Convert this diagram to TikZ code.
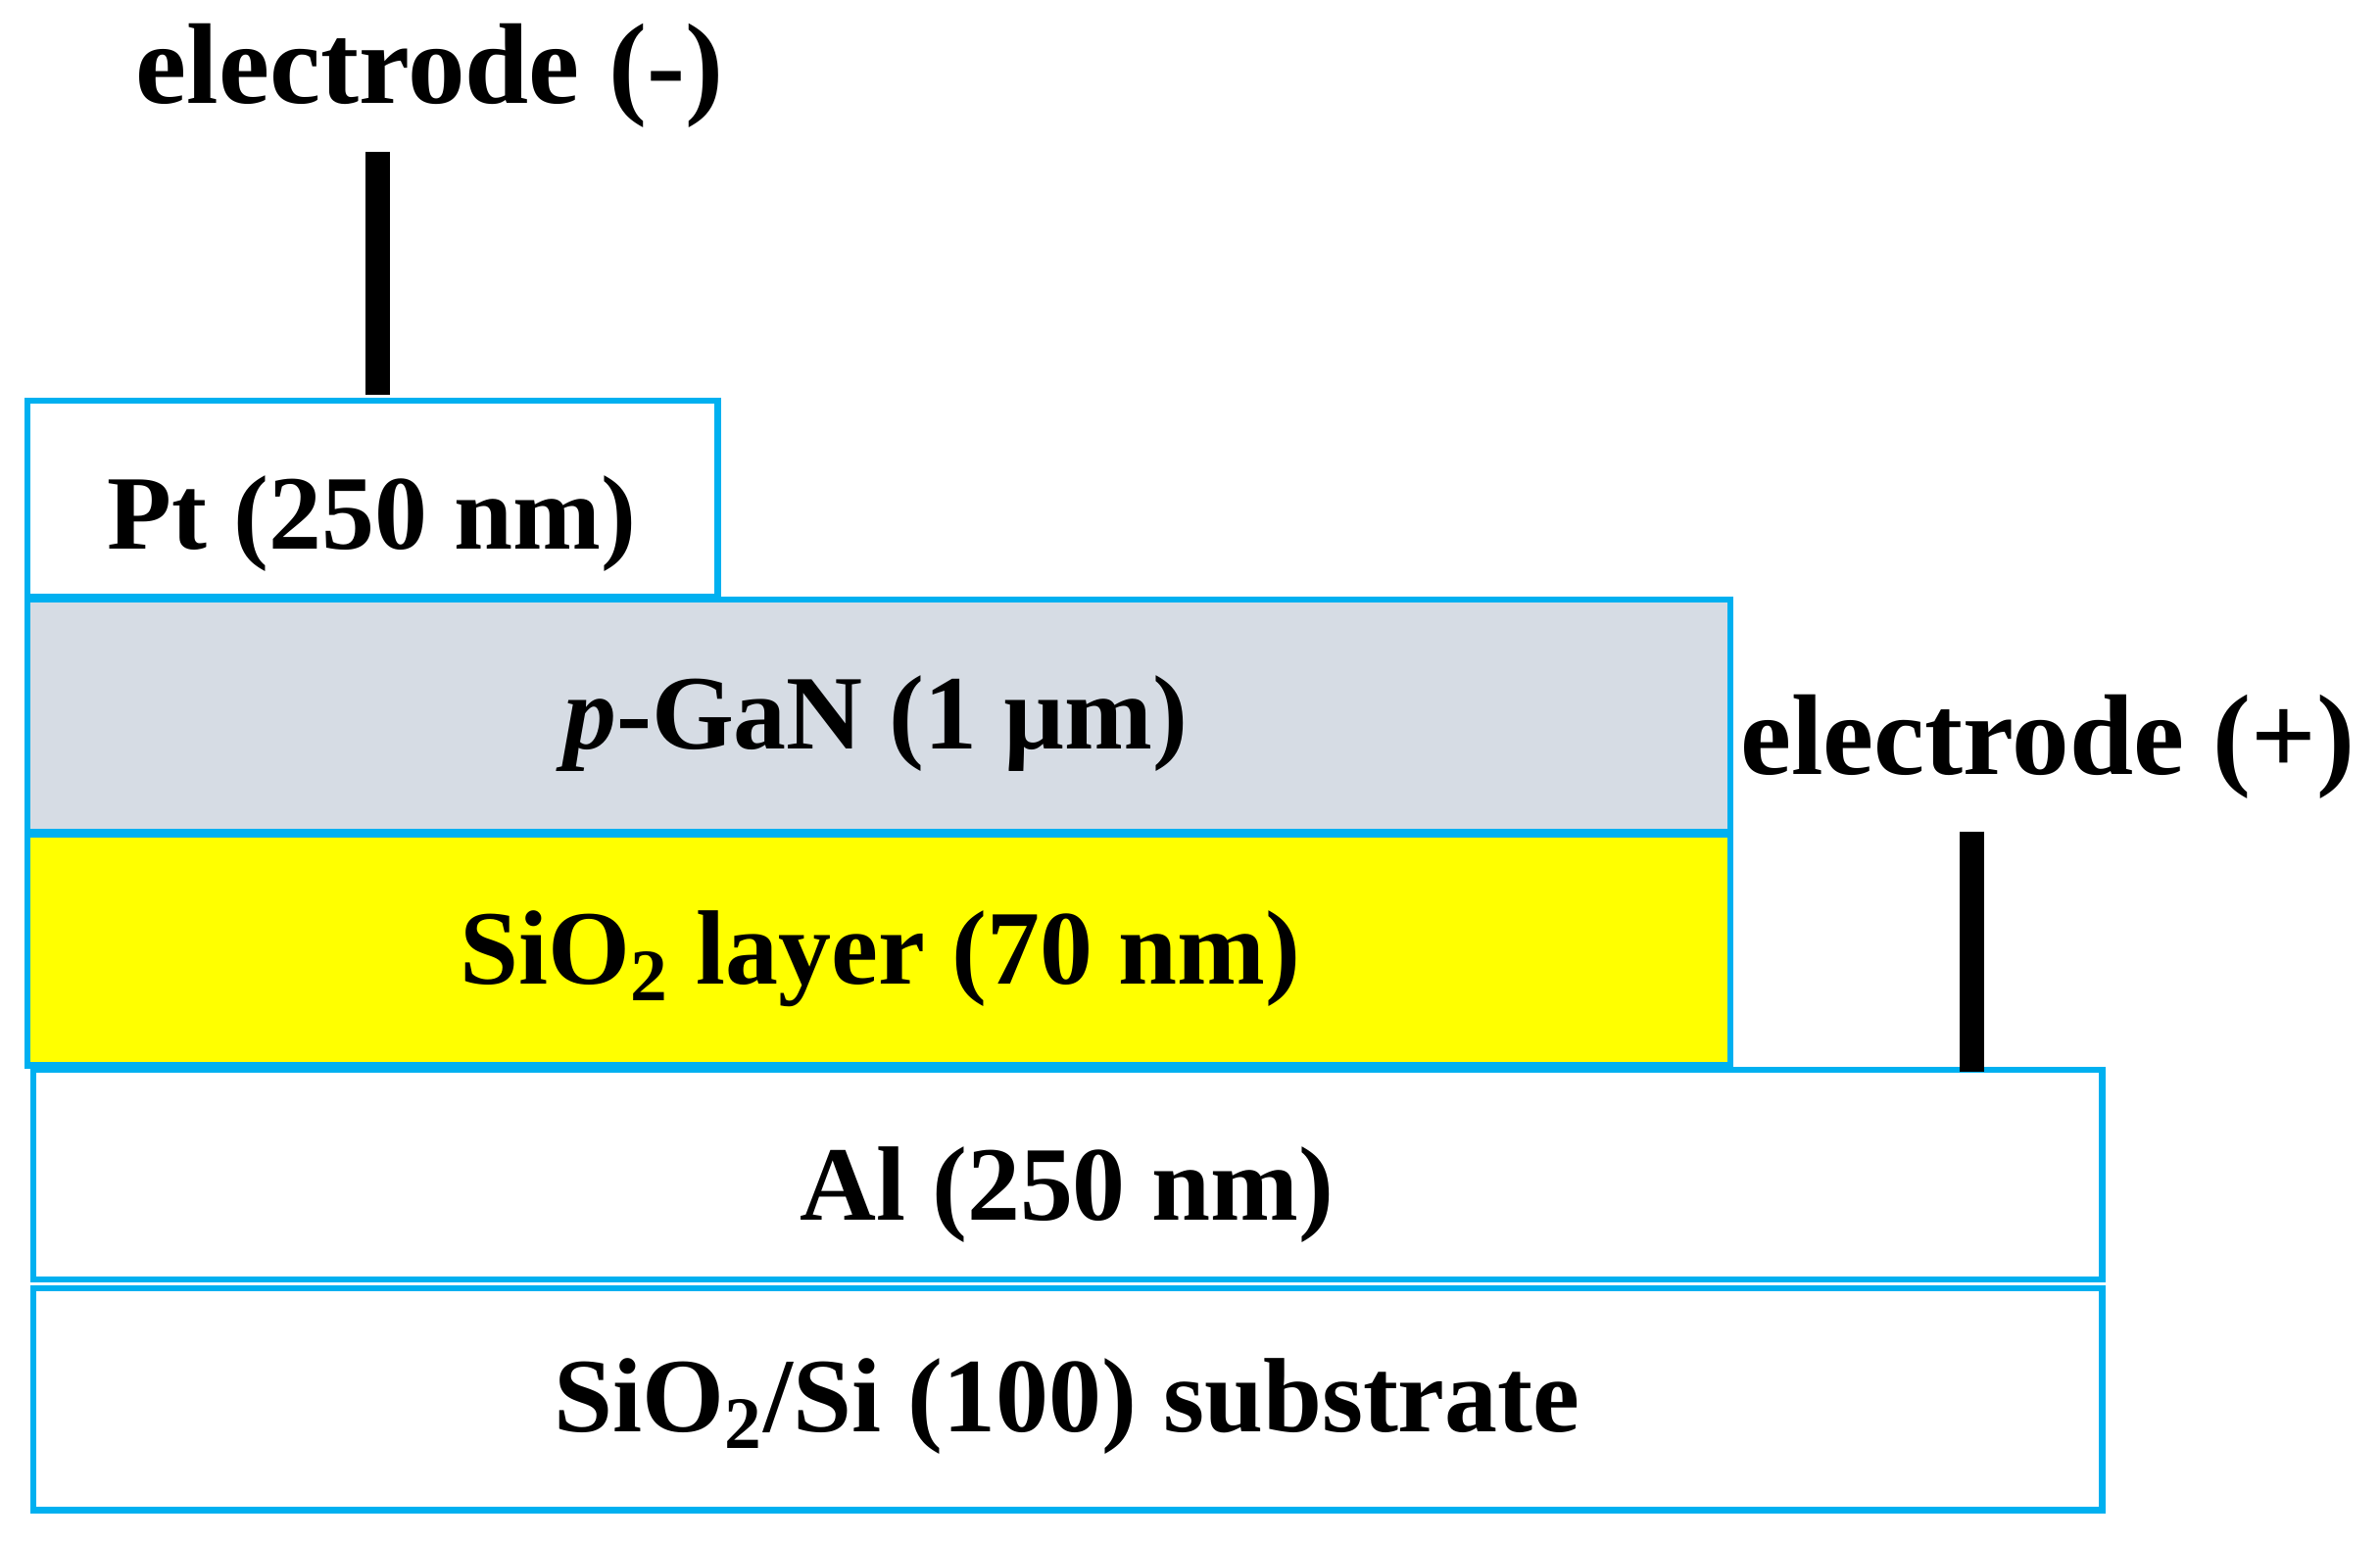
\documentclass[tikz,border=0pt]{standalone}
\usepackage{fontspec}
\setmainfont{Liberation Serif}
\definecolor{lb}{HTML}{00B0F0}
\definecolor{gan}{HTML}{D6DCE4}
\definecolor{yel}{HTML}{FFFF00}
\begin{document}
\begin{tikzpicture}[x=0.01cm,y=-0.01cm,
  layer/.style={draw=lb,line width=1.2pt},
  lbl/.style={font=\fontsize{19.8}{23}\selectfont\bfseries},
  elbl/.style={font=\fontsize{21.5}{24}\selectfont\bfseries},
  wire/.style={line width=4.5pt}]
\useasboundingbox (0,0) rectangle (1568,1016);
\draw[layer] (18,264) rectangle (473,393);
\draw[layer,fill=gan] (18,395) rectangle (1140,548);
\draw[layer,fill=yel] (18,550) rectangle (1140,702);
\draw[layer] (22,705) rectangle (1385,843);
\draw[layer] (22,849) rectangle (1385,995);
\node[lbl] (pt) at (245,345) {Pt (250 nm)};
\node[lbl] (gan) at (577,477) {\textit{p}-GaN (1 µm)};
\node[lbl] (sio) at (580,632) {SiO\textsubscript{2} layer (70 nm)};
\node[lbl] (al) at (703,787) {Al (250 nm)};
\node[lbl] (sub) at (703,927) {SiO\textsubscript{2}/Si (100) substrate};
\node[elbl] (em) at (283,50) {electrode (-)};
\node[elbl] (ep) at (1349,492) {electrode (+)};
\coordinate (a1) at (249,100); \coordinate (a2) at (249,260);
\coordinate (b1) at (1299,548); \coordinate (b2) at (1299,706);
\draw[wire] (a1) -- (a2);
\draw[wire] (b1) -- (b2);
\end{tikzpicture}
\end{document}
